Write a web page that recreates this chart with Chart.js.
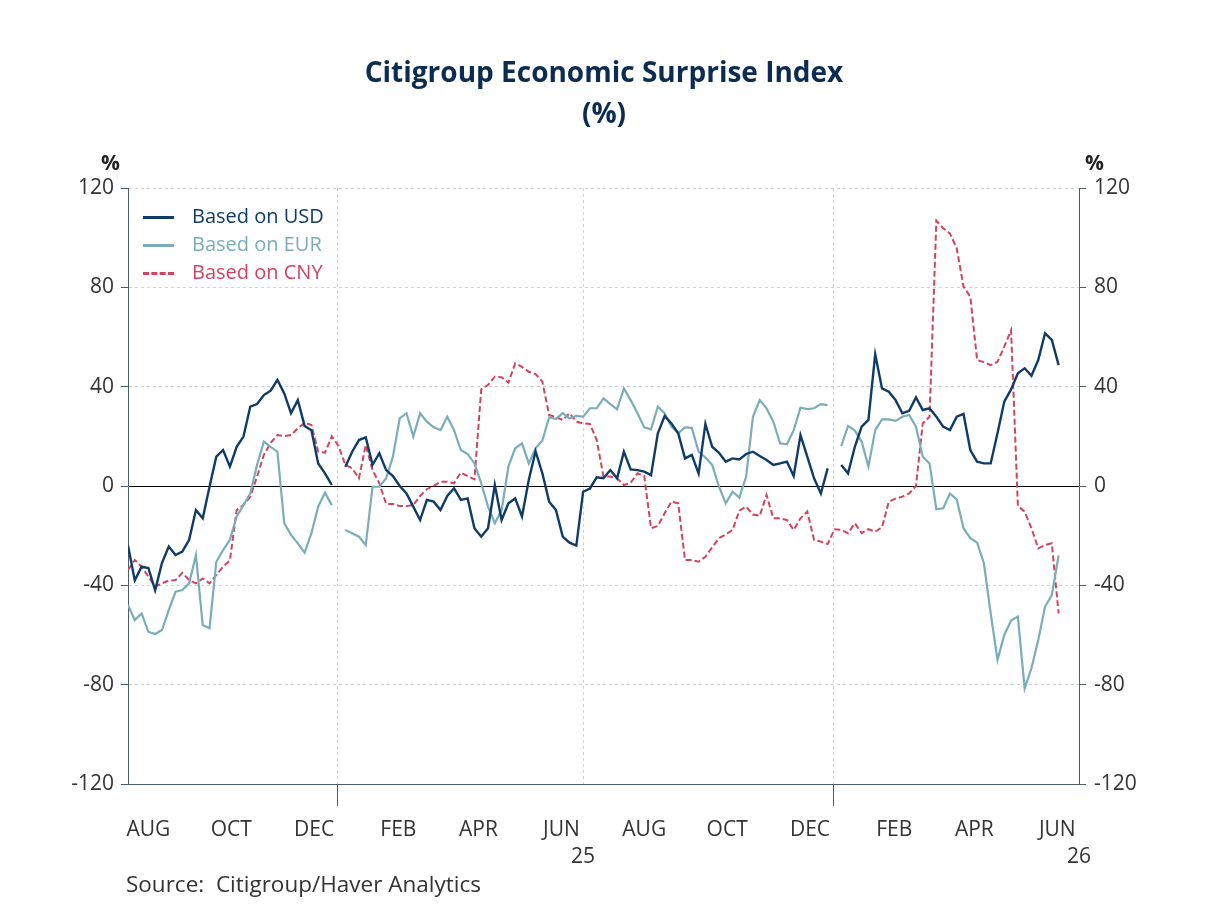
<!DOCTYPE html>
<html>
<head>
<meta charset="utf-8">
<script src="https://cdn.jsdelivr.net/npm/chart.js@4/dist/chart.umd.min.js"></script>
<style>
  body { margin: 0; background: #fff; }
  #wrap { position: relative; width: 1208px; height: 906px; font-family: "Open Sans", sans-serif; }
  #chart { position: absolute; left: 0; top: 0; }
  .title { position: absolute; left: 0; width: 1208px; text-align: center; font-weight: bold; font-size: 28px; color: #0c2c52; }
  .pct { position: absolute; top: 148px; font-weight: bold; font-size: 21px; color: #222; }
  .source { position: absolute; left: 126px; top: 868px; font-size: 22.5px; color: #333; }
  .legend { position: absolute; left: 143px; top: 202px; font-size: 20px; }
  .legend div { height: 28px; line-height: 28px; white-space: nowrap; }
  .legend span.key { display: inline-block; width: 31px; margin-right: 18px; vertical-align: middle; border-top: 3px solid; }
</style>
</head>
<body>
<div id="wrap">
  <canvas id="chart"></canvas>
  <div class="title" style="top:52px">Citigroup Economic Surprise Index</div>
  <div class="title" style="top:93px">(%)</div>
  <div class="pct" style="left:101px">%</div>
  <div class="pct" style="left:1085px">%</div>
  <div class="legend" id="legend"></div>
  <div class="source">Source:&nbsp; Citigroup/Haver Analytics</div>
</div>
<script>
// x values are days counted from 2025-01-01, one reading every 5 days from 2024-07-31
const firstObsDay = -154
const stepDays = 5

const usd = [-24, -38, -32.5, -33, -42, -31, -24.4, -27.8, -26.4, -21.7, -9.7, -13, -0.3, 11.8, 14.5, 7.8, 15.8, 19.9, 32, 33,
  36.6, 38.4, 42.7, 37.3, 29.3, 34.6, 24.2, 22.5, 9.1, 5.1, 0.4, null, 7.8, 13.8, 18.5, 19.6, 8.5, 13.2, 6.4, 4,
  0, -3, -8.3, -13.7, -5.6, -6.3, -9.7, -4, -0.9, -5.6, -5, -17, -20.4, -17, 0.4, -13.7, -7, -5, -12.3, 2.4,
  14, 5.1, -6.3, -9.7, -20.4, -22.8, -24, -2.3, -1, 3.5, 3.1, 6.4, 3.1, 13.8, 6.7, 6.4, 5.8, 4.4, 21.2, 28.2,
  25.2, 21.2, 11.1, 12.5, 5, 25, 15.8, 13.4, 9.8, 11.1, 10.7, 12.9, 13.8, 12.1, 10.5, 8.5, 9.1, 9.8, 4, 20.5,
  11.8, 3.1, -3, 7.1, null, 8.5, 5.1, 15.8, 23.9, 26.6, 53, 39.3, 38, 34.6, 29.3, 30.3, 35.7, 30.6, 31.3, 27.9,
  23.9, 22.5, 27.9, 29, 14.5, 9.8, 9.1, 9.1, 21.2, 34, 38.9, 45.4, 47.4, 44.4, 50.7, 61.5, 58.8, 48.7]

const eur = [-47.9, -54, -51.3, -58.7, -59.6, -58, -50, -42.6, -41.9, -39.2, -27.8, -56, -57.3, -30.5, -25.8, -21.7, -12.3, -7.7, -3, 8.5,
  17.9, 15.8, 13.8, -15, -19.7, -23.1, -26.8, -19, -8.3, -2.7, -7.7, null, -17.7, -19, -20.4, -23.8, -0.3, -0.3, 3.1, 11.8,
  27.2, 29.3, 19.9, 29.3, 25.9, 23.6, 22.5, 27.9, 22.5, 14.5, 12.9, 9.1, 1.1, -8.3, -15, -9.7, 7.8, 15.2, 17.2, 9.1,
  15.2, 18.3, 27.7, 27, 29.3, 27.2, 28.2, 27.9, 31.3, 31.3, 35.3, 33, 30.9, 39.3, 34.6, 29.3, 23.6, 22.8, 31.9, 29.3,
  23.9, 21.2, 23.6, 23.4, 13.8, 11.5, 8.5, -0.3, -7, -2.3, -4.7, 3.8, 27.9, 34.6, 31.3, 25.9, 17.2, 16.8, 22.5, 31.5,
  31, 31.3, 33, 32.6, null, 16, 24.2, 22.3, 17.9, 7.8, 22.5, 26.8, 26.8, 26.2, 27.9, 28.6, 23.9, 11.8, 9.1, -9.4,
  -9, -3, -5.4, -17, -21, -22.8, -31.1, -51.3, -70, -60, -54.2, -52.6, -81.5, -73.4, -62, -48.6, -43.9, -28]

const cny = [-33.8, -29.8, -32.5, -36.5, -40.5, -39.2, -38.1, -37.9, -35, -37.9, -39.2, -37.2, -39.2, -35.8, -32.5, -30, -9.7, -7.7, -4.3, 3.8,
  12.5, 17.4, 20.5, 20.1, 20.5, 23.2, 25.5, 24.6, 13.8, 13.4, 20, 16.1, 8.5, 7.1, 3.1, 16.5, 6.4, 1.1, -7.2, -7.2,
  -8.1, -8.1, -7.7, -4, -1.3, 0.1, 1.7, 1.7, 1.1, 5.4, 4, 2.7, 38.9, 40.7, 44, 43.8, 41.6, 49.4, 48, 46,
  45.1, 42, 28.6, 27.7, 26.6, 29.3, 25.9, 25.2, 25, 18.5, 3.8, 3.8, 3.1, 0.4, 1.3, 5.1, 4, -17, -16.1, -11,
  -6.3, -7, -29.8, -29.8, -30.5, -28.5, -24.7, -21, -19.5, -17.7, -9.9, -8.3, -11.5, -12, -3.6, -13, -13, -13.7, -17.7, -13,
  -10.3, -21.7, -22.4, -23.4, -17.4, -17.7, -19, -15, -19, -17.4, -18.4, -16.6, -6.3, -5.1, -4.3, -3, 0, 25.2, 27.9, 106.8,
  103.8, 101.7, 95.7, 80.3, 76.2, 50.7, 49.9, 48.7, 50, 56.1, 62.8, -8, -10.3, -17, -25.1, -23.8, -23.1, -51.3]

// month labels sit mid-month, year labels sit at the end of June
const monthTickDays = [-139, -78, -17, 45, 104, 165, 226, 287, 348, 410, 469, 530]
const monthTickLabels = ["AUG", "OCT", "DEC", "FEB", "APR", "JUN", "AUG", "OCT", "DEC", "FEB", "APR", "JUN"]
const yearTickDays = [181, 546]
const yearTickLabels = ["25", "26"]
const gridDays = [0, 181, 365]
const yearStartDays = [0, 365]

const seriesNames = ["Based on USD", "Based on EUR", "Based on CNY"]
const seriesColors = ["#0f3b68", "#7aadba", "#d3435d"]

const axisColor = "#4d5c6b"
const gridColor = "#d2d2d2"
const tickFont = { family: "Open Sans", size: 21, lineHeight: 1.3 }

function toPoints(values) {
  return values.map((v, i) => ({ x: firstObsDay + i * stepDays, y: v }))
}

function tickValue(ctx) {
  return ctx && ctx.tick ? ctx.tick.value : undefined
}

function xLabel(value) {
  let m = monthTickDays.indexOf(value)
  if (m >= 0) return monthTickLabels[m]
  let y = yearTickDays.indexOf(value)
  if (y >= 0) return ["", yearTickLabels[y]]
  return ""
}

// html legend
let legend = document.getElementById("legend")
seriesNames.forEach((name, i) => {
  let row = document.createElement("div")
  row.style.color = seriesColors[i]
  let key = document.createElement("span")
  key.className = "key"
  key.style.borderTopColor = seriesColors[i]
  if (i == 2) key.style.borderTopStyle = "dashed"
  row.appendChild(key)
  row.appendChild(document.createTextNode(name))
  legend.appendChild(row)
})

let ctx = document.getElementById("chart").getContext("2d")

new Chart(ctx, {
  type: "line",
  data: {
    datasets: [
      { label: seriesNames[0], data: toPoints(usd), borderColor: seriesColors[0], borderWidth: 2.4 },
      { label: seriesNames[1], data: toPoints(eur), borderColor: seriesColors[1], borderWidth: 2.2 },
      { label: seriesNames[2], data: toPoints(cny), borderColor: seriesColors[2], borderWidth: 2, borderDash: [6, 3] }
    ]
  },
  options: {
    responsive: true,
    maintainAspectRatio: false,
    animation: false,
    spanGaps: false,
    elements: { point: { radius: 0 }, line: { tension: 0 } },
    layout: { padding: { top: 188, left: 0, right: 0, bottom: 0 } },
    plugins: { legend: { display: false }, title: { display: false }, tooltip: { enabled: false } },
    scales: {
      x: {
        type: "linear",
        min: -154,
        max: 546,
        afterBuildTicks: scale => {
          let all = monthTickDays.concat(yearTickDays, gridDays).filter((v, i, a) => a.indexOf(v) == i)
          all.sort((a, b) => a - b)
          scale.ticks = all.map(v => ({ value: v }))
        },
        afterFit: scale => { scale.height = 122 },
        ticks: { autoSkip: false, maxRotation: 0, padding: 10, color: "#333", font: tickFont, callback: v => xLabel(v) },
        grid: {
          color: c => gridDays.includes(tickValue(c)) ? gridColor : "rgba(0,0,0,0)",
          tickColor: c => yearStartDays.includes(tickValue(c)) ? axisColor : "rgba(0,0,0,0)",
          tickLength: 22,
          lineWidth: 1
        },
        border: { color: axisColor, width: 1, dash: [3, 3] }
      },
      y: {
        position: "left",
        min: -120,
        max: 120,
        afterFit: scale => { scale.width = 128 },
        ticks: { stepSize: 40, padding: 7, color: "#333", font: tickFont },
        grid: {
          color: c => tickValue(c) === 0 ? "#000" : gridColor,
          tickColor: axisColor,
          tickLength: 7,
          lineWidth: 1
        },
        border: { color: axisColor, width: 1, dash: c => tickValue(c) === 0 ? [] : [3, 3] }
      },
      y2: {
        position: "right",
        min: -120,
        max: 120,
        afterFit: scale => { scale.width = 129 },
        ticks: { stepSize: 40, padding: 8, color: "#333", font: tickFont },
        grid: { drawOnChartArea: false, tickColor: axisColor, tickLength: 7 },
        border: { color: axisColor, width: 1 }
      }
    }
  }
})
</script>
</body>
</html>
